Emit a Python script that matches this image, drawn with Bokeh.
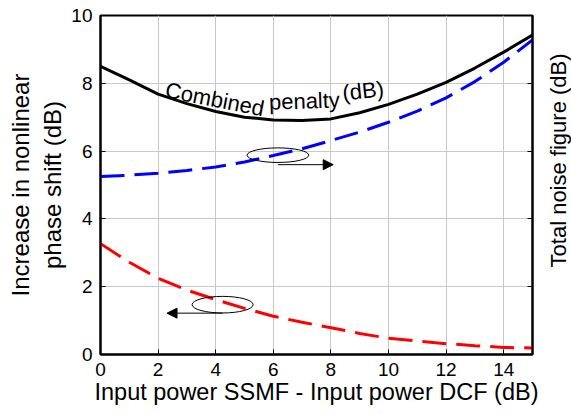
import math
from bokeh.plotting import figure
from bokeh.layouts import row
from bokeh.models import LinearAxis, Arrow, NormalHead, Range1d, FixedTicker, CustomJSTickFormatter
from bokeh.core.properties import value
from bokeh.embed import file_html
from bokeh.resources import INLINE

# ---- data ----
x_db = [0, 1, 2, 3, 4, 5, 6, 7, 8, 9, 10, 11, 12, 13, 14, 15]
combined_penalty = [8.5, 8.1, 7.68, 7.4, 7.17, 7.0, 6.92, 6.9, 6.95, 7.13, 7.38, 7.68, 8.03, 8.45, 8.92, 9.42]
noise_figure = [5.25, 5.29, 5.35, 5.43, 5.53, 5.68, 5.87, 6.07, 6.31, 6.56, 6.85, 7.18, 7.57, 8.05, 8.62, 9.28]
phase_shift = [3.27, 2.72, 2.25, 1.9, 1.62, 1.36, 1.13, 0.95, 0.79, 0.62, 0.48, 0.4, 0.32, 0.26, 0.21, 0.19]
x_ticks = [0, 2, 4, 6, 8, 10, 12, 14]
y_ticks = [0, 2, 4, 6, 8, 10]

# annotation markers (ellipse centre / size, arrow ends)
ell_x = [6.16, 4.24]
ell_y = [5.88, 1.47]
ell_w = [2.14, 2.12]
ell_h = [0.43, 0.49]
arr_right = dict(x_start=6.16, y_start=5.6, x_end=8.08, y_end=5.6)
arr_left = dict(x_start=4.24, y_start=1.22, x_end=2.31, y_end=1.22)

FONT = "Liberation Sans"
MAIN_W = 545
SIDE_W = 571 - MAIN_W
H = 414

p = figure(width=MAIN_W, height=H, output_backend="svg", toolbar_location=None,
           x_range=Range1d(0, 15), y_range=Range1d(0, 10),
           min_border_left=100, min_border_right=MAIN_W - 532, min_border_top=15, min_border_bottom=60)
p.background_fill_color = "white"
p.border_fill_color = "white"
p.outline_line_color = "black"
p.outline_line_width = 2

for ax in (p.xaxis[0], p.yaxis[0]):
    ax.axis_line_width = 2
    ax.major_tick_in = 5
    ax.major_tick_out = 0
    ax.minor_tick_in = 0
    ax.minor_tick_out = 0
    ax.major_label_text_font = FONT
    ax.major_label_text_font_size = "19px"
    ax.major_label_text_color = "black"
    ax.axis_label_text_font = FONT
    ax.axis_label_text_font_size = "24px"
    ax.axis_label_text_font_style = "normal"
    ax.axis_label_text_color = "black"

p.xaxis.axis_label_text_font_size = "23.5px"
p.xaxis.ticker = FixedTicker(ticks=x_ticks)
p.yaxis.ticker = FixedTicker(ticks=y_ticks)
p.xaxis.axis_label = "Input power SSMF - Input power DCF (dB)"
p.yaxis.axis_label = "Increase in nonlinear\nphase shift (dB)"
p.xaxis.major_label_standoff = 8
p.xaxis.axis_label_standoff = 0
p.yaxis.major_label_standoff = 8
p.yaxis.axis_label_standoff = 2

right = LinearAxis(ticker=FixedTicker(ticks=y_ticks))
right.formatter = CustomJSTickFormatter(code="return ''")
right.axis_line_width = 2
right.major_tick_in = 5
right.major_tick_out = 0
right.minor_tick_in = 0
right.minor_tick_out = 0
right.major_label_standoff = 0
p.add_layout(right, "right")

p.grid.grid_line_color = "#c8c8c8"
p.grid.grid_line_width = 1
p.xgrid.ticker = FixedTicker(ticks=x_ticks)
p.ygrid.ticker = FixedTicker(ticks=y_ticks)

p.line(x_db, combined_penalty, line_color="black", line_width=3)
p.line(x_db, noise_figure, line_color="#0000ff", line_width=3, line_dash="24 10")
p.line(x_db, phase_shift, line_color="#ff0000", line_width=3, line_dash="24 10")

p.ellipse(x=ell_x, y=ell_y, width=ell_w, height=ell_h, fill_color=None,
          line_color="black", line_width=1)
for a in (arr_right, arr_left):
    p.add_layout(Arrow(end=NormalHead(size=10, fill_color="black", line_color="black"),
                       line_color="black", line_width=1, **a))

p.text(x=[2.26], y=[7.81], text=["Combined"], angle=[math.radians(-11)],
       text_font=value(FONT), text_font_size="22px", text_align="left",
       text_baseline="alphabetic", text_color="black")
p.text(x=[5.85], y=[7.44], text=["penalty"], angle=[math.radians(2)],
       text_font=value(FONT), text_font_size="22px", text_align="left",
       text_baseline="alphabetic", text_color="black")
p.text(x=[8.4], y=[7.71], text=["(dB)"], angle=[math.radians(6)],
       text_font=value(FONT), text_font_size="22px", text_align="left",
       text_baseline="alphabetic", text_color="black")

# narrow side strip carrying the right-hand axis title (reads bottom to top)
side = figure(width=SIDE_W, height=H, output_backend="svg", toolbar_location=None,
              x_range=Range1d(0, SIDE_W), y_range=Range1d(0, H),
              min_border=0, x_axis_location=None, y_axis_location=None)
side.outline_line_color = None
side.grid.visible = False
side.background_fill_color = "white"
side.border_fill_color = "white"
side.text(x=[13], y=[H - 177], text=["Total noise figure (dB)"], angle=[math.pi / 2],
          text_font=value(FONT), text_font_size="22px", text_align="center",
          text_baseline="middle", text_color="black")

layout = row(p, side, spacing=0)
open("out.html", "w").write(file_html(layout, INLINE))
